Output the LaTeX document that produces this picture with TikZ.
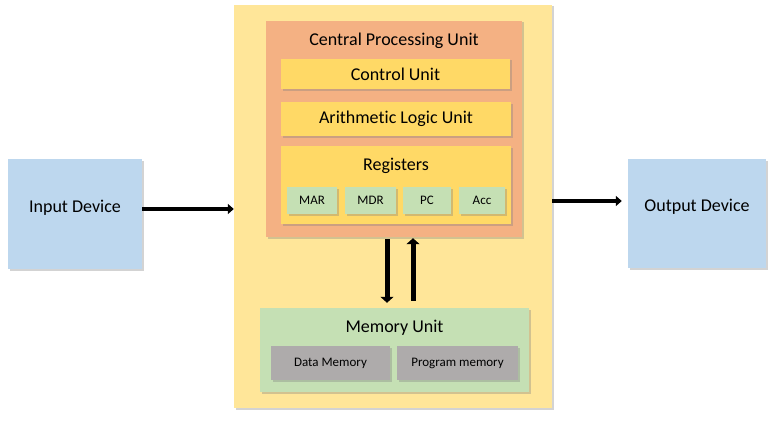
\documentclass[tikz,border=0pt]{standalone}
\usepackage{fontspec}
\setmainfont{Carlito}[Ligatures=NoCommon]
\usetikzlibrary{arrows.meta,shadows}
\definecolor{devblue}{HTML}{BDD7EE}
\definecolor{sysyellow}{HTML}{FFE699}
\definecolor{cpuorange}{HTML}{F4B183}
\definecolor{unityellow}{HTML}{FFD966}
\definecolor{reggreen}{HTML}{C5E0B4}
\definecolor{memgrey}{HTML}{AEABAB}
\tikzstyle{box}=[draw=none,inner sep=0pt,drop shadow={shadow xshift=1.5pt,shadow yshift=-1.5pt,opacity=0.35}]
\tikzstyle{big}=[box,font=\fontsize{18}{20}\selectfont]
\tikzstyle{device}=[big,fill=devblue,text depth=16pt]
\tikzstyle{small}=[box,font=\fontsize{13}{15}\selectfont]
\tikzstyle{title}=[anchor=mid,yshift=-22pt,font=\fontsize{18}{20}\selectfont]
\tikzstyle{arr}=[line width=3.5pt,-{Triangle[length=6pt,width=10pt]}]
\tikzstyle{busarr}=[line width=5pt,-{Triangle[length=6pt,width=13pt]}]
\begin{document}
\begin{tikzpicture}[x=1pt,y=-1pt]
    \useasboundingbox (0,0) rectangle (773,420);
    \node[device,minimum width=134pt,minimum height=110pt] (inp) at (75,214) {Input Device};
    \node[device,minimum width=138pt,minimum height=109pt] (outp) at (697,213.5) {Output Device};
    \node[box,fill=sysyellow,minimum width=318pt,minimum height=403pt] (sys) at (393,206.5) {};
    \node[box,fill=cpuorange,minimum width=256pt,minimum height=216pt,
        label={[title]north:Central Processing Unit}] (cpu) at (394,129) {};
    \node[big,fill=unityellow,minimum width=229pt,minimum height=30pt] (cu) at (395.5,74) {Control Unit};
    \node[big,fill=unityellow,minimum width=230pt,minimum height=34pt] (alu) at (396,119) {Arithmetic Logic Unit};
    \node[box,fill=unityellow,minimum width=230pt,minimum height=78pt,
        label={[title]north:Registers}] (reg) at (396,185) {};
    \node[small,fill=reggreen,minimum width=50pt,minimum height=27pt] (mar) at (312,200.5) {MAR};
    \node[small,fill=reggreen,minimum width=51pt,minimum height=27pt] (mdr) at (370.5,200.5) {MDR};
    \node[small,fill=reggreen,minimum width=48pt,minimum height=27pt] (pc) at (427,200.5) {PC};
    \node[small,fill=reggreen,minimum width=46pt,minimum height=27pt] (acc) at (482,200.5) {Acc};
    \node[box,fill=reggreen,minimum width=269pt,minimum height=84pt,
        label={[title]north:Memory Unit}] (mem) at (394.5,350) {};
    \node[small,fill=memgrey,minimum width=119pt,minimum height=34pt] (dm) at (330.5,363) {Data Memory};
    \node[small,fill=memgrey,minimum width=121pt,minimum height=34pt] (pm) at (457.5,363) {Program memory};
    \draw[arr] ([yshift=5pt]inp.east) -- ([yshift=5pt]inp.east -| sys.west);
    \draw[arr] ([yshift=12.5pt]outp.west -| sys.east) -- ([yshift=12.5pt,xshift=-6pt]outp.west);
    \draw[busarr,shorten <=2pt,shorten >=5pt] ([xshift=-7pt]cpu.south) -- ([xshift=-7pt]cpu.south |- mem.north);
    \draw[busarr,shorten <=7pt,shorten >=1pt] ([xshift=19pt]cpu.south |- mem.north) -- ([xshift=19pt]cpu.south);
\end{tikzpicture}
\end{document}
